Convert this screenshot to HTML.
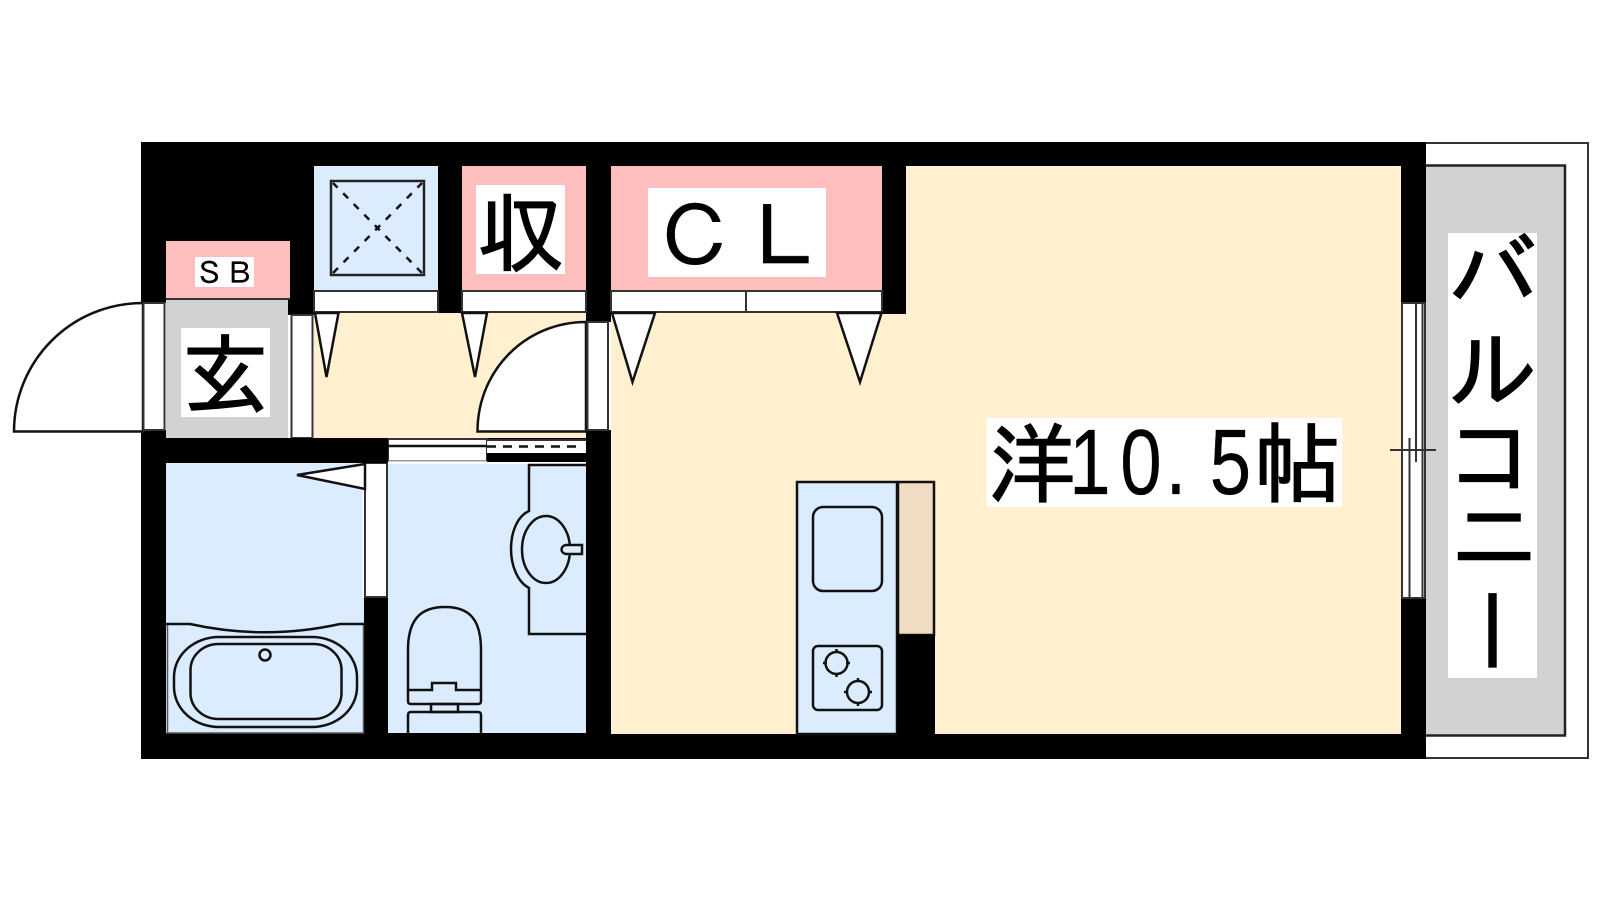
<!DOCTYPE html>
<html lang="ja">
<head>
<meta charset="utf-8">
<title>間取り図</title>
<style>
html,body{margin:0;padding:0;background:#fff;width:1600px;height:900px;overflow:hidden}
svg{display:block}
text{font-family:"IPAGothic","Noto Sans CJK JP",sans-serif;fill:#000;stroke:#000;stroke-width:1.2}
text.s{stroke-width:.3}
text.d{font-family:"Liberation Sans",sans-serif;stroke-width:.3}
</style>
</head>
<body>
<svg width="1600" height="900" viewBox="0 0 1600 900" xmlns="http://www.w3.org/2000/svg">
<rect width="1600" height="900" fill="#fff"/>

<!-- balcony -->
<rect x="1412" y="143" width="176" height="615" fill="#fff" stroke="#333" stroke-width="2"/>
<rect x="1424" y="165.5" width="141" height="570" fill="#d2d2d2" stroke="#222" stroke-width="2.5"/>

<!-- walls base -->
<rect x="141" y="142" width="1285" height="617" fill="#000"/>

<!-- rooms -->
<rect x="166" y="241" width="124" height="57" fill="#ffbebe"/>
<rect x="166" y="300" width="122" height="138" fill="#d2d2d2"/>
<rect x="288" y="315" width="26" height="123" fill="#fff"/>
<rect x="314" y="166" width="124" height="124" fill="#dcecff"/>
<rect x="462" y="166" width="124" height="124" fill="#ffbebe"/>
<rect x="611" y="166" width="271" height="124" fill="#ffbebe"/>
<rect x="314" y="313" width="272" height="125" fill="#fff0d0"/>
<path d="M611 312H882V314H906V166H1401V734H611Z" fill="#fff0d0"/>
<rect x="166" y="463" width="198" height="270" fill="#dcecff"/>
<rect x="388" y="463" width="198" height="270" fill="#dcecff"/>
<rect x="141" y="303" width="25" height="127" fill="#fff"/>
<rect x="586" y="322" width="25" height="108" fill="#fff"/>
<rect x="362.500" y="463" width="25.500" height="134.500" fill="#fff"/>

<g fill="none" stroke="#111" stroke-width="2.5">
  <!-- left entry door -->
  <path d="M143 303C70 303 14 362 14 431.5H143Z" fill="#fff"/>
  <rect x="143.500" y="303" width="21" height="127" fill="#fff" stroke="#333" stroke-width="2"/>
  <line x1="166" y1="299" x2="290" y2="299" stroke="#333" stroke-width="2"/>

  <!-- genkan to hall door -->
  <rect x="291.500" y="315" width="21" height="123" fill="#fff" stroke="#333" stroke-width="2"/>

  <!-- storage strips -->
  <g stroke="#333" stroke-width="2">
  <path d="M314 291H438V312H314Z" fill="#fff"/>
  <path d="M462 291H586V312H462Z" fill="#fff"/>
  <path d="M611 291H882V312H611Z" fill="#fff"/>
  <line x1="746" y1="291" x2="746" y2="312"/>
  </g>

  <!-- shutter panels -->
  <path d="M315 313L326.500 377L338.500 313Z" fill="#fff"/>
  <path d="M462 313L475 377L487 313Z" fill="#fff"/>
  <path d="M612 313L632.500 382L655 313Z" fill="#fff"/>
  <path d="M837 313L860 382L881.500 313Z" fill="#fff"/>

  <!-- hall door -->
  <path d="M586 322C526 322 477.500 370 477.500 431.500H586Z" fill="#fff"/>
  <rect x="587.500" y="322" width="20.500" height="108" fill="#fff" stroke="#333" stroke-width="2"/>

  <!-- sliding door to wash -->
  <rect x="388" y="439" width="99" height="22.500" fill="#fff" stroke="#333" stroke-width="2"/>
  <line x1="388" y1="446" x2="487" y2="446"/>
  <rect x="487" y="440" width="99" height="13" fill="#fff" stroke="none"/>
  <line x1="487" y1="440" x2="586" y2="440" stroke="#333" stroke-width="2"/>
  <line x1="487" y1="446.500" x2="582" y2="446.500" stroke-dasharray="9 7"/>
  <line x1="388" y1="462.500" x2="586" y2="462.500" stroke="#fff"/>

  <!-- bath door -->
  <rect x="365" y="463" width="22" height="134" fill="#fff" stroke="#333" stroke-width="2"/>
  <path d="M365 464L297 475L365 489Z" fill="#fff"/>

  <!-- washer pan -->
  <rect x="331" y="181" width="93" height="94" stroke="#222"/>
  <path d="M333 183L422 273M422 183L333 273" stroke-dasharray="7 8" stroke-dashoffset="0.5"/>

  <!-- bath -->
  <path d="M166 624H190C240 635 290 635 340 624H364" />
  <path d="M167.500 625V733H363.500V625" stroke="#555" stroke-width="1.500"/>
  <rect x="174" y="637" width="183" height="90" rx="45" ry="40"/>
  <rect x="190.500" y="644" width="151" height="75" rx="28" ry="26"/>
  <circle cx="265" cy="655" r="5.500"/>

  <!-- vanity -->
  <path d="M586 465H529V511C505 522 505 575 529 588V634H586" />
  <ellipse cx="546" cy="549.500" rx="24" ry="33.500"/>
  <path d="M582 545H566C560 546 560 553 566 554H582Z" fill="#dcecff"/>

  <!-- toilet -->
  <path d="M408 690V650C408 620 420 607 445 607C470 607 481 620 481 650V690H456V683H432V690Z"/>
  <path d="M408 690V701Q408 704 411 704H478Q481 704 481 701V690"/>
  <rect x="431" y="704" width="27" height="8"/>
  <path d="M408 733V715Q408 712 411 712H478Q481 712 481 715V733"/>

  <!-- kitchen -->
  <rect x="797" y="482" width="100" height="252" fill="#dcecff"/>
  <rect x="898" y="482" width="36" height="153" fill="#f0dcc3"/>
  <rect x="813" y="507" width="69" height="84" rx="10"/>
  <rect x="813" y="646" width="69" height="64" rx="5"/>
  <circle cx="836.500" cy="663" r="11"/>
  <circle cx="858" cy="692" r="11"/>
  <path d="M836.500 649V653M836.500 673V677M823 663H827M846 663H850M858 678V682M858 702V706M844 692H848M868 692H872"/>

  <!-- balcony window -->
  <rect x="1402" y="303" width="23" height="295" fill="#fff" stroke="#333" stroke-width="2"/>
  <path d="M1416 303V462M1422.500 303V597M1409.500 438V597" stroke="#333" stroke-width="2"/>
  <line x1="1390" y1="450" x2="1436" y2="450" stroke="#333" stroke-width="2"/>
</g>

<!-- black stub under beige counter -->
<rect x="897" y="635" width="38" height="99" fill="#000"/>
<rect x="141" y="438" width="247" height="25" fill="#000"/>
<rect x="487" y="453" width="99" height="9" fill="#000"/>

<!-- labels -->
<rect x="195" y="257" width="59" height="30" fill="#fff"/>
<text class="s" font-size="30" text-anchor="middle" y="284"><tspan x="209.500">Ｓ</tspan><tspan x="239.500">Ｂ</tspan></text>
<rect x="181" y="328" width="89" height="89" fill="#fff"/>
<text x="225.500" y="407" font-size="88" text-anchor="middle">玄</text>
<rect x="476" y="185" width="89" height="89" fill="#fff"/>
<text x="521" y="265" font-size="88" text-anchor="middle">収</text>
<rect x="648" y="188" width="178" height="89" fill="#fff"/>
<text class="s" font-size="84" text-anchor="middle" y="267.500"><tspan x="695">Ｃ</tspan><tspan x="784.500">Ｌ</tspan></text>
<rect x="987" y="418" width="355" height="89" fill="#fff"/>
<text x="1032" y="496" font-size="88" text-anchor="middle">洋</text>
<text class="d" font-size="93" text-anchor="middle" y="494" transform="scale(.8 1)"><tspan x="1362.500">1</tspan><tspan x="1426.250">0</tspan><tspan x="1470">.</tspan><tspan x="1538">5</tspan></text>
<text x="1297.500" y="496" font-size="88" text-anchor="middle">帖</text>
<rect x="1448" y="233" width="89" height="445" fill="#fff"/>
<text x="1493" y="306.500" font-size="90" text-anchor="middle">バ</text>
<text x="1493" y="402.500" font-size="90" text-anchor="middle">ル</text>
<text x="1491" y="489.500" font-size="90" text-anchor="middle">コ</text>
<text x="1494" y="569" font-size="90" text-anchor="middle">ニ</text>
<text x="1492.500" y="584" font-size="90" style="writing-mode:vertical-rl">ー</text>
</svg>
</body>
</html>
